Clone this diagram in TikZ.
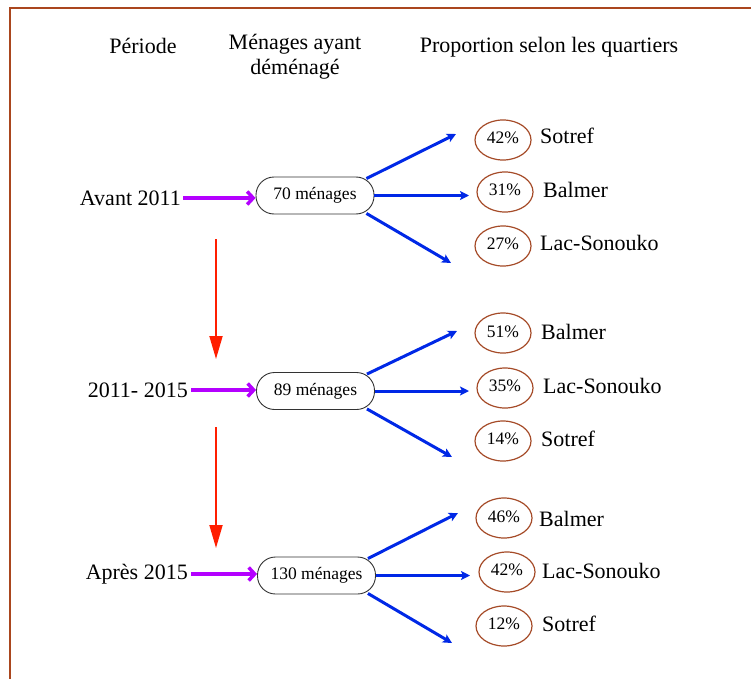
\documentclass[tikz,border=0pt]{standalone}
\usepackage{fontspec}
\setmainfont{Liberation Serif}
\usetikzlibrary{arrows.meta,shapes.geometric}
\definecolor{framebrown}{RGB}{170,70,30}
\definecolor{ellbrown}{RGB}{165,75,40}
\definecolor{purplearr}{RGB}{180,0,255}
\definecolor{redarr}{RGB}{255,30,0}
\definecolor{bluearr}{RGB}{0,40,230}
\tikzset{
  big/.style={font=\fontsize{22}{24}\selectfont, inner sep=1pt},
  periodlbl/.style={big, anchor=east},
  hdr/.style={big, align=center},
  boxnode/.style={draw=black!80, line width=0.9pt, rounded corners=18pt, minimum width=118pt, minimum height=37pt, inner sep=0pt, font=\fontsize{17.5}{20}\selectfont},
  pct/.style={ellipse, draw=ellbrown, line width=1.2pt, minimum width=56pt, minimum height=40pt, inner sep=0pt, font=\fontsize{17.5}{19}\selectfont},
  quart/.style={big, anchor=west},
  purplearrow/.style={draw=purplearr, line width=3.5pt, -{Straight Barb[length=6pt,width=13pt]}},
  redarrow/.style={draw=redarr, fill=redarr, line width=1.8pt, -{Triangle[length=23pt,width=13pt]}},
  bluearrow/.style={draw=bluearr, fill=bluearr, line width=3pt, -{Stealth[length=9pt,width=9pt,inset=2pt]}},
}
\begin{document}
\begin{tikzpicture}[x=1pt,y=-1pt]
\useasboundingbox (0,0) rectangle (751,679);
% frame
\draw[framebrown, line width=1.2pt] (751,8) -- (10,8) -- (10,679);
% headers
\node[hdr] (h1) at (143,46) {Période};
\node[hdr] (h2) at (295,57) {Ménages ayant\\[1pt]déménagé};
\node[hdr] (h3) at (549,47) {Proportion selon les quartiers};
% periods
\node[periodlbl] (p1) at (182,198) {Avant 2011};
\node[periodlbl] (p2) at (189,390) {2011- 2015};
\node[periodlbl] (p3) at (189,574) {Après 2015};
% boxes
\node[boxnode] (b1) at (315,195.5) {70 ménages};
\node[boxnode] (b2) at (315.5,391) {89 ménages};
\node[boxnode] (b3) at (316.5,575.5) {130 ménages};
% purple arrows
\draw[purplearrow] ([xshift=1pt]p1.east) -- (p1.east -| b1.west);
\draw[purplearrow] ([xshift=2pt]p2.east) -- (p2.east -| b2.west);
\draw[purplearrow] ([xshift=2pt]p3.east) -- (p3.east -| b3.west);
% red arrows
\coordinate (r1s) at (216,239);
\coordinate (r1e) at (216,359);
\coordinate (r2s) at (216,427);
\coordinate (r2e) at (216,548);
\draw[redarrow] (r1s) -- (r1e);
\draw[redarrow] (r2s) -- (r2e);
% percentages and quarters, row 1
\node[pct] (e11) at (503,140) {\raisebox{4pt}{42\%}};
\node[pct] (e12) at (505,192) {\raisebox{4pt}{31\%}};
\node[pct] (e13) at (503,246) {\raisebox{4pt}{27\%}};
\node[quart] (q11) at (539,136) {Sotref};
\node[quart] (q12) at (542,190) {Balmer};
\node[quart] (q13) at (539,243) {Lac-Sonouko};
% row 2
\node[pct] (e21) at (503,333) {\raisebox{2pt}{51\%}};
\node[pct] (e22) at (505,388) {\raisebox{4pt}{35\%}};
\node[pct] (e23) at (503,441) {\raisebox{4pt}{14\%}};
\node[quart] (q21) at (540,332) {Balmer};
\node[quart] (q22) at (542,386) {Lac-Sonouko};
\node[quart] (q23) at (540,439) {Sotref};
% row 3
\node[pct] (e31) at (504,518) {\raisebox{2pt}{46\%}};
\node[pct] (e32) at (507,572) {\raisebox{4pt}{42\%}};
\node[pct] (e33) at (504,626) {\raisebox{4pt}{12\%}};
\node[quart] (q31) at (538,519) {Balmer};
\node[quart] (q32) at (541,571) {Lac-Sonouko};
\node[quart] (q33) at (541,624) {Sotref};
% blue arrow tips
\coordinate (t11) at (456,134);
\coordinate (t12) at (469,195);
\coordinate (t13) at (451,263);
\coordinate (t21) at (457,331);
\coordinate (t22) at (469,390);
\coordinate (t23) at (452,457);
\coordinate (t31) at (458,513);
\coordinate (t32) at (470,574);
\coordinate (t33) at (452,643);
% blue arrows
\draw[bluearrow] ([xshift=-8pt,yshift=-2pt]b1.north east) -- (t11);
\draw[bluearrow] (b1.east) -- (b1.east -| t12);
\draw[bluearrow] ([xshift=-8pt,yshift=1pt]b1.south east) -- (t13);
\draw[bluearrow] ([xshift=-8pt,yshift=-2pt]b2.north east) -- (t21);
\draw[bluearrow] (b2.east) -- (b2.east -| t22);
\draw[bluearrow] ([xshift=-8pt,yshift=1pt]b2.south east) -- (t23);
\draw[bluearrow] ([xshift=-8pt,yshift=-2pt]b3.north east) -- (t31);
\draw[bluearrow] (b3.east) -- (b3.east -| t32);
\draw[bluearrow] ([xshift=-8pt,yshift=1pt]b3.south east) -- (t33);
\end{tikzpicture}
\end{document}
